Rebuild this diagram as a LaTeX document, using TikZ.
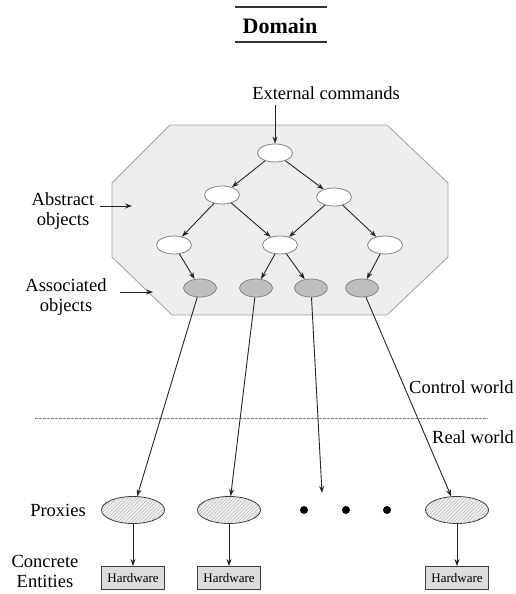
\documentclass[tikz,border=0pt]{standalone}
\usepackage{fontspec}
\setmainfont{Liberation Serif}
\usetikzlibrary{shapes.geometric,arrows.meta,patterns.meta}
\definecolor{panel}{HTML}{EDEDED}
\definecolor{panelline}{HTML}{A0A0A0}
\definecolor{assoc}{HTML}{BDBDBD}
\definecolor{assocline}{HTML}{858585}
\definecolor{hwfill}{HTML}{DCDCDC}
\begin{document}
\begin{tikzpicture}[x=1pt,y=-1pt,
  lbl/.style={font=\fontsize{18.5}{20}\selectfont, align=center, inner sep=0pt},
  abs/.style={ellipse, draw=assocline, fill=white, line width=0.8pt, minimum width=35pt, minimum height=18pt, inner sep=0pt},
  asc/.style={ellipse, draw=assocline, fill=assoc, line width=0.8pt, minimum width=33pt, minimum height=18pt, inner sep=0pt},
  proxy/.style={ellipse, draw=black!80, line width=0.8pt, fill=black!6, minimum width=63pt, minimum height=27pt, inner sep=0pt,
    postaction={pattern={Lines[angle=45,distance=2.5pt,line width=0.35pt]}, pattern color=black!35}},
  hw/.style={rectangle, draw=black!75, fill=hwfill, line width=0.8pt, minimum width=63pt, minimum height=23pt, inner sep=0pt,
    font=\fontsize{13}{13}\selectfont},
  arr/.style={draw=black!85, line width=0.9pt, -{Stealth[length=7pt,width=5pt]}},
  dot/.style={circle, fill=black, minimum size=8pt, inner sep=0pt}
]
\useasboundingbox (0,0) rectangle (516,594);

% title
\node[font=\fontsize{22}{22}\selectfont\bfseries, inner sep=0pt] (title) at (280,26) {Domain};
\draw[line width=2pt, black!80] (235,7) -- (327,7);
\draw[line width=2pt, black!80] (235,42) -- (327,42);

% domain panel
\draw[fill=panel, draw=panelline, line width=0.8pt]
  (170,125) -- (387,125) -- (448,183) -- (448,257) -- (387,315)
  -- (172,315) -- (112,257) -- (112,183) -- cycle;

% abstract objects
\node[abs] (n0) at (275,153) {};
\node[abs] (n1) at (222,195) {};
\node[abs] (n2) at (334,197) {};
\node[abs] (n3) at (174,245) {};
\node[abs] (n4) at (280,245) {};
\node[abs] (n5) at (385,245) {};

% associated objects
\node[asc] (g1) at (200,288) {};
\node[asc] (g2) at (256,288) {};
\node[asc] (g3) at (311,288) {};
\node[asc] (g4) at (362,288) {};

\draw[arr] (n0) -- (n1);
\draw[arr] (n0) -- (n2);
\draw[arr] (n1) -- (n3);
\draw[arr] (n1) -- (n4);
\draw[arr] (n2) -- (n4);
\draw[arr] (n2) -- (n5);
\draw[arr] (n3) -- (g1);
\draw[arr] (n4) -- (g2);
\draw[arr] (n4) -- (g3);
\draw[arr] (n5) -- (g4);

% external commands
\node[lbl] (ext) at (326,93) {External commands};
\coordinate (extfoot) at (275,105);
\draw[arr] (extfoot) -- (n0);

% side labels
\node[lbl] (abstr) at (63,211) {Abstract\\objects};
\coordinate (abstrtail) at (100,206);
\coordinate (abstrtip) at (132,206);
\draw[arr] (abstrtail) -- (abstrtip);

\node[lbl] (assocl) at (66,297) {Associated\\objects};
\coordinate (assoctail) at (120,292);
\coordinate (assoctip) at (153,292);
\draw[arr] (assoctail) -- (assoctip);

% world boundary
\draw[dash pattern=on 3pt off 1pt, black!50, line width=0.6pt] (35,418) -- (488,418);
\node[lbl, anchor=west] (ctrl) at (409,387) {Control world};
\node[lbl, anchor=west] (real) at (432,437) {Real world};

% proxies
\node[proxy] (p1) at (133,510) {};
\node[proxy] (p2) at (229,510) {};
\node[proxy] (p3) at (457,510) {};
\node[dot] (d1) at (304,510) {};
\node[dot] (d2) at (346,510) {};
\node[dot] (d3) at (387,510) {};
\coordinate (dotsin) at (322,493);

\draw[arr] (g1) -- (p1);
\draw[arr] (g2) -- (p2);
\draw[arr] (g3) -- (dotsin);
\draw[arr] (g4) -- (p3);

% hardware
\node[hw] (h1) at (133,578) {Hardware};
\node[hw] (h2) at (229,578) {Hardware};
\node[hw] (h3) at (457,578) {Hardware};
\draw[arr] (p1) -- (h1);
\draw[arr] (p2) -- (h2);
\draw[arr] (p3) -- (h3);

\node[lbl] (prox) at (58,510) {Proxies};
\node[lbl] (conc) at (45,571) {Concrete\\Entities};
\end{tikzpicture}
\end{document}
